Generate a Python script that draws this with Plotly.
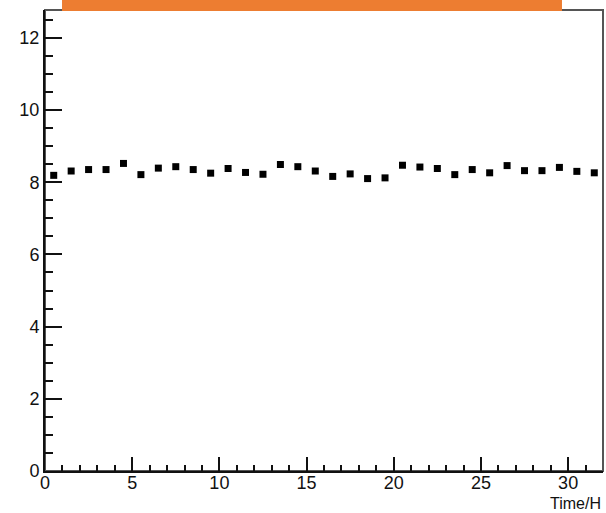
import plotly.graph_objects as go

time_h = [i + 0.5 for i in range(32)]
values = [8.19, 8.31, 8.35, 8.35, 8.52, 8.21, 8.39, 8.43, 8.35, 8.25,
          8.38, 8.27, 8.22, 8.49, 8.43, 8.31, 8.16, 8.23, 8.10, 8.12,
          8.47, 8.42, 8.38, 8.21, 8.35, 8.26, 8.46, 8.32, 8.32, 8.41,
          8.30, 8.26]
x_title = "Time/H"

fig = go.Figure()
fig.add_trace(go.Scatter(
    x=time_h, y=values, mode="markers",
    marker=dict(symbol="square", size=7, color="black", line=dict(width=0)),
    showlegend=False, hoverinfo="skip"))

font = dict(family="Liberation Sans, Arial, sans-serif", size=18, color="#111")
title_font = dict(family="Liberation Sans, Arial, sans-serif", size=16, color="#111")

fig.update_layout(
    width=606, height=513,
    margin=dict(l=45, r=3, t=10, b=42),
    paper_bgcolor="white", plot_bgcolor="white",
    font=font,
    xaxis=dict(range=[0, 32], showgrid=False, zeroline=False,
               showline=True, linecolor="#111", linewidth=2,
               ticks="inside", ticklen=14, tickwidth=2, tickcolor="#111",
               dtick=5, tick0=0, tickfont=font, automargin=False,
               ticklabelstandoff=-6,
               minor=dict(ticks="inside", ticklen=6, tickwidth=2, tickcolor="#111", dtick=1)),
    yaxis=dict(range=[0, 12.77], showgrid=False, zeroline=False,
               showline=True, linecolor="#111", linewidth=2,
               ticks="inside", ticklen=17, tickwidth=2, tickcolor="#111",
               dtick=2, tick0=0, tickfont=font, automargin=False,
               minor=dict(ticks="inside", ticklen=8, tickwidth=2, tickcolor="#111", dtick=0.5)),
    shapes=[
        dict(type="rect", xref="paper", yref="paper", x0=0, x1=1, y0=0, y1=1,
             line=dict(color="#555", width=2), layer="below"),
        dict(type="rect", xref="paper", yref="paper", x0=0.0305, x1=0.9265,
             y0=0.998, y1=1.03, line=dict(width=0), fillcolor="#ED7D31", layer="above"),
    ],
    annotations=[
        dict(text=x_title, xref="paper", yref="paper", x=1.0, y=0, xanchor="right",
             yanchor="top", yshift=-22, showarrow=False, font=title_font),
    ],
)

fig.write_html("out.html", config={"displayModeBar": False},
               post_script="document.body.style.margin='0';")
